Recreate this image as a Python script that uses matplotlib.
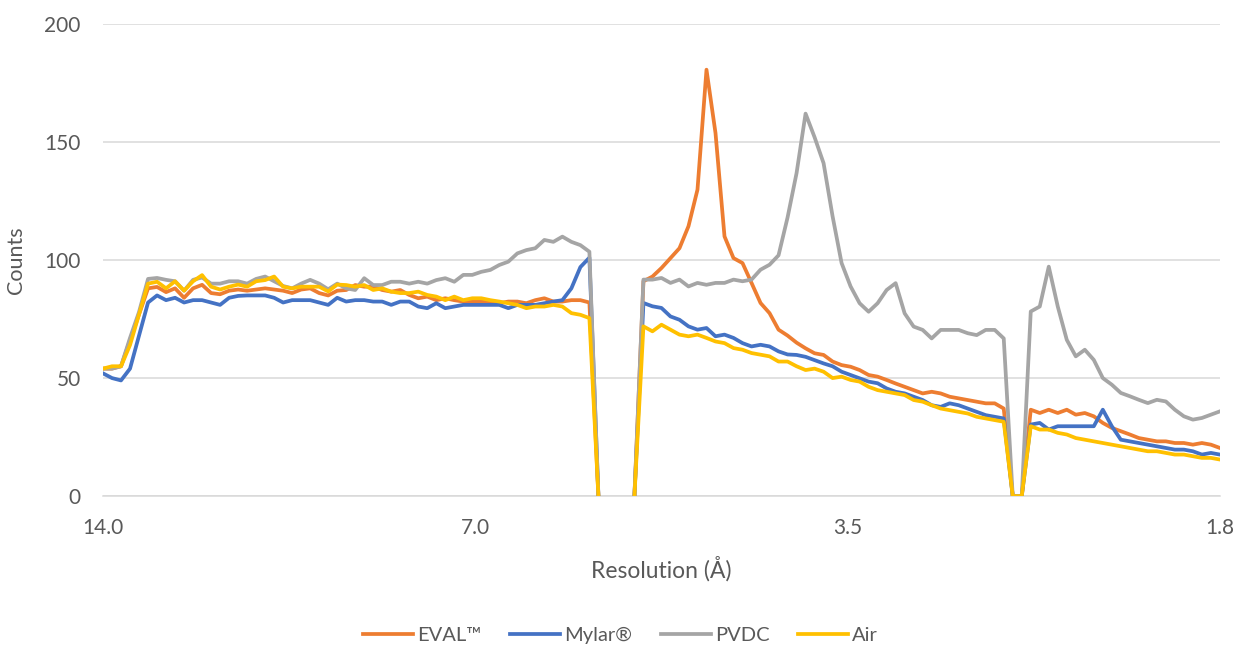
import numpy as np
import matplotlib
matplotlib.use("Agg")
import matplotlib.pyplot as plt

plt.rcParams["font.family"] = ["Lato", "DejaVu Sans"]

nan = np.nan

# resolution bins (Å), evenly spaced on the log axis from 14 Å down to 1.75 Å
resolution = np.geomspace(14.0, 1.75, 125)

tick_values = [14.0, 7.0, 3.5, 1.75]
tick_labels = ["14.0", "7.0", "3.5", "1.8"]

eval_counts = [
    54, 54, 55, 66, 77, 88, 88.6, 86.4, 88, 84,
    88, 89.5, 86, 85.5, 87, 87.5, 87, 87.5, 88, 87.5,
    87, 86, 87.5, 88, 86, 85, 87, 87.3, 89.4, 88.7,
    88.7, 87.3, 86.6, 87.3, 85.2, 83.8, 84.5, 83, 83.8, 83,
    82.4, 82.4, 82.4, 82.4, 81.7, 82.4, 82.4, 81.7, 83, 83.8,
    82.4, 82.4, 83, 83, 82, 0, nan, nan, nan, 0,
    91, 93, 96.6, 100.8, 105, 114.3, 129.8, 180.6, 153.8, 110,
    100.8, 98.7, 90.3, 81.8, 77.5, 70.5, 68, 65, 62.6, 60.5,
    59.8, 57, 55.5, 54.8, 53.4, 51.3, 50.6, 49.2, 47.7, 46.3,
    44.9, 43.5, 44.2, 43.5, 42.1, 41.4, 40.7, 40, 39.3, 39.3,
    37.1, 0, 0, 36.6, 35.2, 36.6, 35.2, 36.6, 34.5, 35.2,
    33.8, 31, 28.9, 27.5, 26.1, 24.6, 23.9, 23.2, 23.2, 22.5,
    22.5, 21.8, 22.5, 21.8, 20.4,
]

mylar_counts = [
    52, 50, 49, 54, 68, 82, 85, 83, 84, 82,
    83, 83, 82, 81, 84, 84.8, 85, 85, 85, 84,
    82, 83, 83, 83, 82, 81, 84, 82.4, 83, 83,
    82.4, 82.4, 81, 82.4, 82.4, 80.3, 79.6, 81.7, 79.6, 80.3,
    81, 81, 81, 81, 81, 79.6, 81, 81, 81, 81.7,
    82.4, 83, 88, 97, 101, 0, nan, nan, nan, 0,
    81.8, 80.4, 79.7, 76.1, 74.7, 71.9, 70.5, 71.2, 67.7, 68.4,
    67, 64.8, 63.4, 64.1, 63.4, 61.3, 60, 59.8, 59, 57.6,
    56.2, 55, 52.7, 51.3, 49.9, 48.5, 47.8, 45.6, 44.2, 43.5,
    42.1, 40.7, 38.5, 37.8, 39.3, 38.5, 37.1, 35.7, 34.3, 33.6,
    32.9, 0, 0, 30.3, 31, 28.2, 29.6, 29.6, 29.6, 29.6,
    29.6, 36.6, 29.6, 23.9, 23.2, 22.5, 21.8, 21.1, 20.4, 19.7,
    19.7, 19, 17.6, 18.3, 17.6,
]

pvdc_counts = [
    54, 54, 55, 67, 78, 92, 92.4, 91.6, 91, 87,
    91.6, 92.6, 90, 90, 91, 91, 90, 92, 93, 91,
    89, 88, 90, 91.6, 90, 87.6, 90, 88, 87.3, 92.3,
    89.4, 89.4, 90.8, 90.8, 90, 90.8, 90, 91.5, 92.3, 90.8,
    93.7, 93.7, 95, 95.8, 97.9, 99.3, 102.8, 104.2, 105, 108.5,
    107.7, 109.9, 107.7, 106.3, 103.5, 0, nan, nan, nan, 0,
    91.7, 91.7, 92.4, 90.3, 91.7, 88.8, 90.3, 89.5, 90.3, 90.3,
    91.7, 91, 91.7, 95.9, 98, 102, 118, 136.8, 162, 152,
    141, 118.5, 98.7, 88.8, 81.7, 78.1, 81.7, 87.3, 90.2, 77.4,
    71.8, 70.4, 66.8, 70.4, 70.4, 70.4, 69, 68.2, 70.4, 70.4,
    66.8, 0, 0, 78.2, 80.3, 97.2, 80.3, 66.2, 59.2, 62,
    57.7, 50, 47.2, 43.7, 42.3, 40.8, 39.4, 40.8, 40.1, 36.6,
    33.8, 32.4, 33.1, 34.5, 35.9,
]

air_counts = [
    54, 55, 55, 64, 77, 90, 90.8, 88, 91, 87,
    91, 93.6, 88.7, 87.5, 88.7, 89.6, 88.7, 91, 91.5, 93,
    88.7, 88, 88.7, 88.7, 88.7, 86.7, 89.6, 89.4, 88.7, 89.4,
    87.3, 88, 86.6, 86, 86, 86.6, 85.2, 84.5, 83, 84.5,
    83, 83.8, 83.8, 83, 82.4, 81.7, 81, 79.6, 80.3, 80.3,
    81, 80.3, 77.5, 76.8, 75.4, 0, nan, nan, nan, 0,
    71.9, 69.8, 72.6, 70.5, 68.4, 67.7, 68.4, 67, 65.5, 64.8,
    62.7, 62, 60.6, 59.9, 59.2, 57, 57, 55, 53.4, 54,
    52.7, 50, 50.6, 49.2, 48.5, 46.3, 44.9, 44.2, 43.5, 42.8,
    40.7, 40, 38.5, 37.1, 36.4, 35.7, 35, 33.6, 32.9, 32.2,
    31.5, 0, 0, 29.6, 28.2, 28.2, 26.8, 26.1, 24.6, 23.9,
    23.2, 22.5, 21.8, 21.1, 20.4, 19.7, 19, 19, 18.3, 17.6,
    17.6, 16.9, 16.2, 16.2, 15.5,
]

series = [
    ("EVAL™", eval_counts, "#ED7D31"),
    ("Mylar®", mylar_counts, "#4472C4"),
    ("PVDC", pvdc_counts, "#A5A5A5"),
    ("Air", air_counts, "#FFC000"),
]

text_color = "#595959"
grid_color = "#D9D9D9"

fig = plt.figure(figsize=(12.41, 6.46), dpi=100)
ax = fig.add_axes([0.083, 0.232, 0.9, 0.731])

for name, values, color in series:
    ax.plot(resolution, values, color=color, linewidth=2.7, label=name,
            solid_joinstyle="round", zorder=3)

ax.set_xscale("log")
ax.set_xlim(14.0, 1.75)
ax.set_xticks(tick_values)
ax.set_xticklabels(tick_labels)
ax.minorticks_off()
ax.set_ylim(0, 200)
ax.set_yticks([0, 50, 100, 150, 200])

ax.grid(axis="y", color=grid_color, linewidth=1.1, zorder=0)
for side in ["top", "right", "left"]:
    ax.spines[side].set_visible(False)
ax.spines["bottom"].set_color(grid_color)
ax.spines["bottom"].set_linewidth(1.1)

ax.tick_params(axis="both", length=0, labelsize=15, labelcolor=text_color)
ax.tick_params(axis="x", pad=16)
ax.tick_params(axis="y", pad=16)

ax.set_xlabel("Resolution (Å)", fontsize=16.5, color=text_color, labelpad=13)
ax.set_ylabel("Counts", fontsize=15.5, color=text_color, labelpad=13)

fig.legend(loc="center", bbox_to_anchor=(0.5, 0.016), ncol=4, frameon=False,
           fontsize=14.5, handlelength=2.5, handletextpad=0.2, columnspacing=1.4,
           labelcolor=text_color)

fig.savefig("out.png", dpi=100)
